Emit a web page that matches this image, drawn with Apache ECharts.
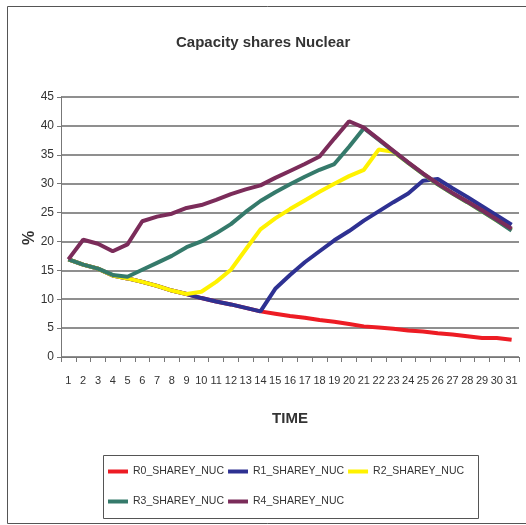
<!DOCTYPE html>
<html>
<head>
<meta charset="utf-8">
<script src="https://cdn.jsdelivr.net/npm/echarts@6/dist/echarts.min.js"></script>
<style>html,body{margin:0;padding:0;background:#fff;}#c{width:526px;height:525px;}</style>
</head>
<body>
<div id="c"></div>
<script>
var categories = ['1','2','3','4','5','6','7','8','9','10','11','12','13','14','15','16','17','18','19','20','21','22','23','24','25','26','27','28','29','30','31'];
var R0 = [16.9,16.0,15.3,14.1,13.6,13.0,12.3,11.5,10.9,10.2,9.6,9.1,8.5,7.9,7.5,7.1,6.8,6.4,6.1,5.7,5.3,5.1,4.9,4.6,4.4,4.1,3.9,3.6,3.3,3.3,3.0];
var R1 = [16.9,16.0,15.3,14.1,13.6,13.0,12.3,11.5,10.9,10.2,9.6,9.1,8.5,7.9,11.8,14.2,16.4,18.3,20.2,21.8,23.6,25.2,26.8,28.3,30.5,30.8,29.2,27.7,26.1,24.5,22.9];
var R2 = [16.9,16.0,15.3,14.1,13.6,13.0,12.3,11.5,10.9,11.3,13.0,15.1,18.6,22.1,24.0,25.6,27.1,28.6,30.0,31.3,32.4,35.9,35.5,33.6,31.7,29.9,28.3,26.8,25.2,23.6,22.0];
var R3 = [16.9,16.0,15.3,14.2,13.9,15.1,16.3,17.5,19.0,20.0,21.4,23.0,25.1,27.0,28.5,29.9,31.2,32.4,33.4,36.4,39.6,37.6,35.6,33.6,31.7,29.9,28.3,26.8,25.2,23.6,21.9];
var R4 = [16.9,20.3,19.6,18.3,19.5,23.5,24.3,24.8,25.8,26.3,27.2,28.2,29.0,29.7,31.0,32.2,33.4,34.7,37.8,40.8,39.7,37.7,35.7,33.7,31.8,30.0,28.4,26.9,25.4,23.8,22.2];
var seriesNames = ['R0_SHAREY_NUC','R1_SHAREY_NUC','R2_SHAREY_NUC','R3_SHAREY_NUC','R4_SHAREY_NUC'];
var seriesData = [R0,R1,R2,R3,R4];
var colors = ['#ED1C24','#2E3192','#FFF200','#357A6B','#7B2C5A'];

var FONT = "'Liberation Sans Narrow','Arial Narrow','Liberation Sans',sans-serif";
var chart = echarts.init(document.getElementById('c'), null, {renderer:'canvas'});
var legendBase = {
  orient:'horizontal', left:108, width:380, padding:0, itemWidth:20, itemHeight:4, itemGap:4, icon:'rect',
  textStyle:{fontFamily:FONT, fontSize:10.5, color:'#333'}
};
chart.setOption({
  animation:false,
  color: colors,
  title:{
    text:'Capacity shares Nuclear', left:171, top:30,
    textStyle:{fontFamily:FONT, fontSize:15, fontWeight:'bold', color:'#333'}
  },
  legend:[
    Object.assign({}, legendBase, {top:466, data:seriesNames.slice(0,3)}),
    Object.assign({}, legendBase, {top:496, data:seriesNames.slice(3)})
  ],
  grid:{left:61, right:7, top:97, bottom:168, containLabel:false},
  xAxis:{
    type:'category', data:categories, boundaryGap:true,
    name:'TIME', nameLocation:'middle', nameGap:54,
    nameTextStyle:{fontFamily:FONT, fontSize:15, fontWeight:'bold', color:'#333'},
    axisLine:{lineStyle:{color:'#777', width:1}},
    axisTick:{show:true, length:5, lineStyle:{color:'#777'}},
    axisLabel:{fontFamily:FONT, fontSize:11, color:'#333', margin:18, interval:0}
  },
  yAxis:{
    type:'value', min:0, max:45, interval:5,
    axisLine:{show:true, lineStyle:{color:'#777', width:1}},
    axisTick:{show:true, length:4, lineStyle:{color:'#777'}},
    axisLabel:{fontFamily:FONT, fontSize:12, color:'#333', margin:7},
    splitLine:{lineStyle:{color:'#6a6a6a', width:1.5}}
  },
  series: seriesNames.map(function(n,i){
    return {name:n, type:'line', data:seriesData[i], showSymbol:false, symbol:'none',
      lineStyle:{width:4, color:colors[i]}, itemStyle:{color:colors[i]}};
  }),
  graphic:[
    {type:'rect', shape:{x:7.5, y:6.5, width:530, height:517}, style:{fill:'none', stroke:'#555', lineWidth:1}, silent:true},
    {type:'rect', shape:{x:103.5, y:455.5, width:375, height:63}, style:{fill:'none', stroke:'#555', lineWidth:1}, silent:true},
    {type:'text', x:30, y:238, rotation:Math.PI/2, silent:true,
      style:{text:'%', font:"bold 16px 'Liberation Sans Narrow','Arial Narrow','Liberation Sans',sans-serif", fill:'#333', textAlign:'center', textVerticalAlign:'middle'}}
  ]
});
</script>
</body>
</html>
